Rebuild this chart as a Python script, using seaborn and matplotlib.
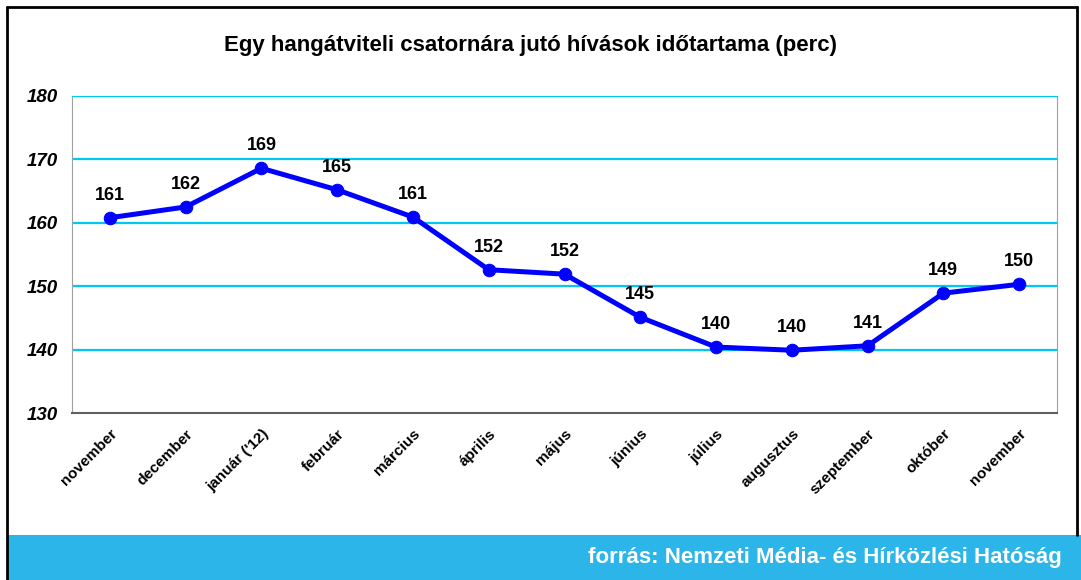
import numpy as np
import seaborn as sns
import matplotlib
matplotlib.use("Agg")
import matplotlib.pyplot as plt
from matplotlib.patches import Rectangle
from matplotlib.lines import Line2D

months = ['november', 'december', "január ('12)", 'február', 'március', 'április',
          'május', 'június', 'július', 'augusztus', 'szeptember', 'október', 'november']
minutes = [160.8, 162.5, 168.6, 165.2, 160.9, 152.6, 151.9, 145.1, 140.4, 139.9, 140.6, 148.9, 150.3]
value_labels = ['161', '162', '169', '165', '161', '152', '152', '145', '140', '140', '141', '149', '150']
title = 'Egy hangátviteli csatornára jutó hívások időtartama (perc)'
source = 'forrás: Nemzeti Média- és Hírközlési Hatóság'

sns.set_style('white')
plt.rcParams['font.family'] = ['Liberation Sans', 'DejaVu Sans']
plt.rcParams['text.color'] = 'black'
plt.rcParams['xtick.labelcolor'] = 'black'
plt.rcParams['ytick.labelcolor'] = 'black'

W, H = 1081, 580
fig = plt.figure(figsize=(W / 100, H / 100), dpi=100)
ax = fig.add_axes([72 / W, 1 - 413 / H, (1057 - 72) / W, (413 - 96) / H])

x = np.arange(len(months))
sns.lineplot(x=x, y=minutes, ax=ax, color='#0000ff', linewidth=3.6,
             marker='o', markersize=9, markeredgecolor='#0000ff')

for xi, yi, lab in zip(x, minutes, value_labels):
    ax.annotate(lab, (xi, yi), xytext=(0, 10), textcoords='offset points',
                ha='center', va='bottom', fontsize=13, fontweight='bold')

ax.set_xlim(-0.5, len(months) - 0.5)
ax.set_ylim(130, 180)
ax.set_yticks([130, 140, 150, 160, 170, 180])
ax.set_yticklabels([str(v) for v in [130, 140, 150, 160, 170, 180]],
                   fontsize=13.5, fontweight='bold', fontstyle='italic')
for v in [140, 150, 160, 170, 180]:
    ax.axhline(v, color='#00c8f0', linewidth=1.6, zorder=0)

ax.set_xticks(x)
ax.set_xticklabels(months, rotation=45, ha='right', rotation_mode='anchor',
                   fontsize=11, fontweight='bold')
ax.set_xticks(np.arange(-0.5, len(months)), minor=True)
ax.tick_params(axis='x', which='major', length=0, pad=10)
ax.tick_params(axis='x', which='minor', length=4, color='#606060', width=1.2)
ax.tick_params(axis='y', length=0, pad=10)

ax.spines['left'].set_color('#a0a0a0')
ax.spines['right'].set_color('#a0a0a0')
ax.spines['top'].set_color('#00c8f0')
ax.spines['bottom'].set_color('#606060')
ax.spines['bottom'].set_linewidth(1.5)
ax.set_xlabel('')
ax.set_ylabel('')

fig.text(530 / W, 1 - 45 / H, title, ha='center', va='center',
         fontsize=16, fontweight='bold')

# source banner
fig.patches.append(Rectangle((8 / W, 0), 1 - 8 / W, 45 / H, transform=fig.transFigure,
                             facecolor='#2bb5e8', edgecolor='none', zorder=1))
fig.text(1062 / W, 22 / H, source, ha='right', va='center', color='white',
         fontsize=16, fontweight='bold', zorder=3)

# frame
frame_kw = dict(transform=fig.transFigure, color='black', linewidth=2, zorder=4)
fig.lines.append(Line2D([7 / W, 7 / W], [0, 1 - 7 / H], **frame_kw))
fig.lines.append(Line2D([7 / W, 1077 / W], [1 - 7 / H, 1 - 7 / H], **frame_kw))
fig.lines.append(Line2D([1077 / W, 1077 / W], [45 / H, 1 - 7 / H], **frame_kw))

fig.savefig('out.png', dpi=100)
